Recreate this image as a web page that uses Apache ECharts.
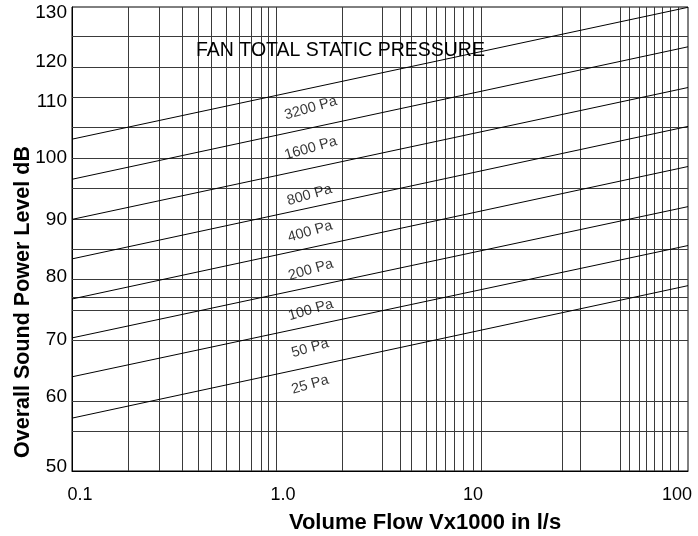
<!DOCTYPE html>
<html>
<head>
<meta charset="utf-8">
<script src="https://cdn.jsdelivr.net/npm/echarts@6/dist/echarts.min.js"></script>
<style>html,body{margin:0;padding:0;background:#fff}#c{width:698px;height:536px}</style>
</head>
<body>
<div id="c"></div>
<script>
// ---- data ----
const pressures = ['3200 Pa', '1600 Pa', '800 Pa', '400 Pa', '200 Pa', '100 Pa', '50 Pa', '25 Pa'];
const flowEnds = [0.1, 112];                     // volume flow (x1000 l/s) at the two ends of each line
const levelAtStart = [103.1, 96.5, 89.9, 83.4, 76.8, 70.4, 64.0, 57.2];   // dB at 0.1
const levelAtEnd = [124.8, 118.3, 111.6, 105.2, 98.6, 92.0, 85.6, 79.0];  // dB at 112
const labelFlow = [1.52, 1.52, 1.5, 1.51, 1.52, 1.52, 1.51, 1.51];
const labelLevel = [108.2, 101.6, 93.9, 87.9, 81.6, 75.0, 68.7, 62.7];

const xTickValues = [0.1, 1, 10, 100];
const xTickLabels = ['0.1', '1.0', '10', '100'];
const yTickValues = [49.2, 60.7, 70.1, 80.5, 89.8, 100, 109.2, 115.8, 123.85];
const yTickLabels = ['50', '60', '70', '80', '90', '100', '110', '120', '130'];

const xGridValues = [0.187, 0.270, 0.350, 0.421, 0.488, 0.579, 0.671, 0.769, 0.862, 0.945, 1.023,
  2.17, 3.42, 4.21, 4.77, 5.66, 6.34, 7.02, 7.78, 8.62, 9.66, 10.59,
  26.7, 32.7, 51.6, 57.2, 64.1, 69.4, 76.1, 83.3, 91.3, 100];
const yGridValues = [120, 115, 110, 105, 100, 95, 90, 85, 80, 77.1, 75, 70, 60, 55];

const FONT = "'Liberation Sans', Arial, Helvetica, sans-serif";

// small horizontal nudges of the x tick labels, as printed in the reference (style only)
const xLabelPad = [[0, 0, 0, 16], [0, 0, 0, 18], [0, 6, 0, 0], [0, 2, 0, 0]];
const xRich = {};
xLabelPad.forEach((p, i) => { xRich['s' + i] = { padding: p, fontFamily: FONT, fontSize: 18, color: '#000' }; });

function nearestIndex(v, vals) {
  let best = 0, bd = Infinity;
  vals.forEach((t, i) => { const d = Math.abs(Math.log(Math.abs(v) + 1e-9) - Math.log(Math.abs(t) + 1e-9)); if (d < bd) { bd = d; best = i; } });
  return bd < 0.05 ? best : -1;
}

const chart = echarts.init(document.getElementById('c'), null, { renderer: 'canvas' });

const lineSeries = pressures.map((p, i) => ({
  name: p,
  type: 'line',
  data: [[flowEnds[0], levelAtStart[i]], [flowEnds[1], levelAtEnd[i]]],
  symbol: 'none',
  silent: true,
  lineStyle: { color: '#000', width: 1 },
  z: 5
}));

const gridSeries = {
  type: 'line',
  data: [],
  silent: true,
  markLine: {
    silent: true,
    symbol: ['none', 'none'],
    label: { show: false },
    lineStyle: { color: '#3a3a3a', width: 1, type: 'solid' },
    animation: false,
    data: xGridValues.map(v => ({ xAxis: v })).concat(yGridValues.map(v => ({ yAxis: v })))
  },
  z: 2
};

const labelSeries = {
  type: 'scatter',
  symbolSize: 0,
  silent: true,
  data: pressures.map((p, i) => ({ name: p, value: [labelFlow[i], labelLevel[i]] })),
  label: {
    show: true,
    position: 'inside',
    formatter: '{b}',
    rotate: 16,
    fontFamily: FONT,
    fontSize: 14.5,
    color: '#000'
  },
  z: 6
};

chart.setOption({
  animation: false,
  backgroundColor: '#fff',
  title: {
    text: 'FAN TOTAL STATIC PRESSURE',
    left: 196,
    top: 41,
    padding: 0,
    textStyle: { fontFamily: FONT, fontSize: 19.5, fontWeight: 'normal', color: '#000' }
  },
  grid: {
    left: 72, right: 10, top: 7, bottom: 65,
    show: true, borderColor: '#000', borderWidth: 1, backgroundColor: 'transparent'
  },
  xAxis: {
    type: 'log',
    logBase: 10,
    min: 0.1,
    max: 112,
    axisLine: { show: true, lineStyle: { color: '#000', width: 1 } },
    axisTick: { show: false },
    splitLine: { show: false },
    minorSplitLine: { show: false },
    axisLabel: {
      margin: 15,
      fontFamily: FONT,
      fontSize: 18,
      color: '#000',
      showMinLabel: true,
      showMaxLabel: true,
      rich: xRich,
      formatter: v => {
        const i = nearestIndex(v, xTickValues);
        return i < 0 ? '' : '{s' + i + '|' + xTickLabels[i] + '}';
      }
    }
  },
  yAxis: {
    type: 'value',
    min: 48.5,
    max: 124.85,
    axisLine: { show: true, lineStyle: { color: '#000', width: 1 } },
    axisTick: { show: false },
    splitLine: { show: false },
    axisLabel: {
      customValues: yTickValues,
      margin: 5,
      fontFamily: FONT,
      fontSize: 19,
      color: '#000',
      formatter: v => {
        let best = 0, bd = Infinity;
        yTickValues.forEach((t, i) => { const d = Math.abs(v - t); if (d < bd) { bd = d; best = i; } });
        return yTickLabels[best];
      }
    }
  },
  graphic: [
    {
      type: 'text', x: 23, y: 302, rotation: Math.PI / 2, silent: true,
      style: { text: 'Overall Sound Power Level dB', font: 'bold 21.5px ' + FONT, fill: '#000', align: 'center', verticalAlign: 'middle' }
    },
    {
      type: 'text', x: 425, y: 523, silent: true,
      style: { text: 'Volume Flow Vx1000 in l/s', font: 'bold 22px ' + FONT, fill: '#000', align: 'center', verticalAlign: 'middle' }
    }
  ],
  series: [gridSeries].concat(lineSeries).concat([labelSeries])
});
</script>
</body>
</html>
